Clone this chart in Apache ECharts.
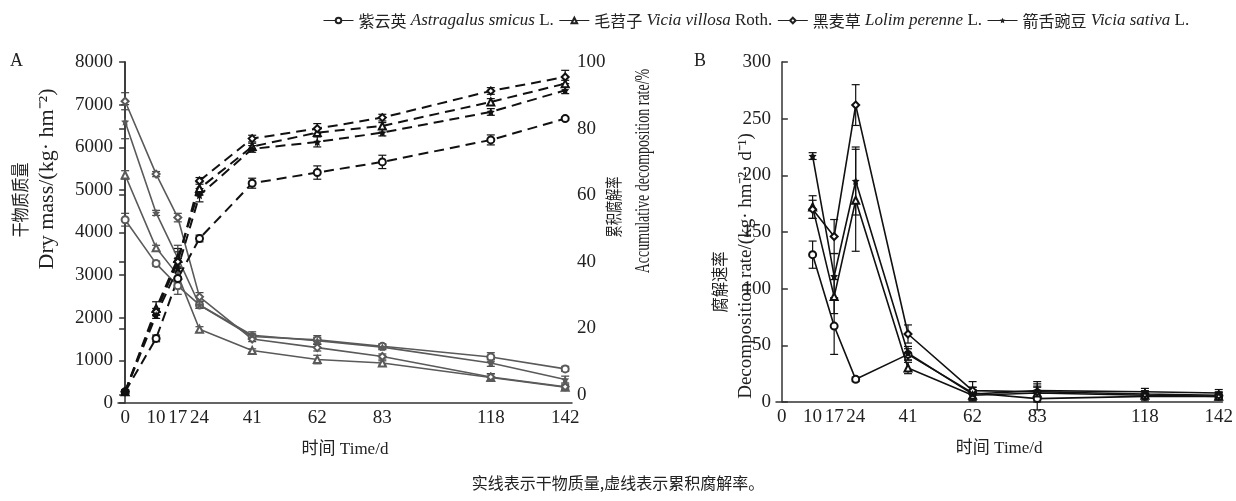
<!DOCTYPE html>
<html>
<head>
<meta charset="utf-8">
<script src="https://cdn.jsdelivr.net/npm/echarts@6/dist/echarts.min.js"></script>
<style>
html, body { margin: 0; padding: 0; background: #fff; }
#main { width: 1236px; height: 501px; }
</style>
</head>
<body>
<div id="main"></div>
<script>
// 时间（天）
var daysA = [0, 10, 17, 24, 41, 62, 83, 118, 142];
var daysB = [10, 17, 24, 41, 62, 83, 118, 142];
var tickDays = [0, 10, 17, 24, 41, 62, 83, 118, 142];

// 物种
var species = ['紫云英', '毛苕子', '黑麦草', '箭舌豌豆'];
var latin = ['Astragalus smicus', 'Vicia villosa', 'Lolim perenne', 'Vicia sativa'];
var author = ['L.', 'Roth.', 'L.', 'L.'];

// A 干物质质量 kg/hm2
var massZyy = [4300, 3270, 2750, 2300, 1560, 1480, 1330, 1080, 800];
var massMtz = [5350, 3640, 3000, 1730, 1230, 1020, 940, 600, 370];
var massHmc = [7080, 5370, 4350, 2490, 1500, 1300, 1090, 610, 380];
var massJsw = [6600, 4460, 3400, 2300, 1590, 1460, 1310, 940, 550];
var massZyyErr = [150, 60, 200, 80, 60, 100, 60, 100, 60];
var massMtzErr = [100, 60, 200, 60, 40, 100, 50, 80, 40];
var massHmcErr = [200, 60, 100, 100, 60, 80, 60, 80, 60];
var massJswErr = [400, 60, 300, 80, 80, 80, 60, 80, 80];

// A 累积腐解率 %
var rateZyy = [1, 17, 35, 47, 63.6, 66.8, 70, 76.6, 83];
var rateMtz = [1, 26, 41, 62, 74.6, 78.8, 80.8, 88, 93.5];
var rateHmc = [1, 25, 40, 64.3, 77, 80, 83.3, 91.3, 95.5];
var rateJsw = [1, 24, 38, 60, 73.9, 76, 78.8, 85, 91.5];
var rateZyyErr = [0.5, 1, 2, 1, 1.5, 2, 2, 1.5, 0.5];
var rateMtzErr = [0.5, 2, 3, 2, 1, 1, 1, 1, 1];
var rateHmcErr = [0.5, 1, 3, 1, 1, 1.5, 1, 1, 2];
var rateJswErr = [0.5, 1, 3, 2, 1, 1.5, 1, 1, 1];

// B 腐解速率 kg/(hm2·d)
var speedZyy = [130, 67, 20, 42, 8, 3, 5, 5];
var speedMtz = [172, 93, 178, 30, 6, 8, 6, 5];
var speedHmc = [170, 146, 262, 60, 10, 9, 7, 6];
var speedJsw = [217, 111, 195, 43, 7, 10, 9, 8];
var speedZyyErr = [12, 25, 2, 5, 5, 10, 4, 3];
var speedMtzErr = [10, 15, 45, 5, 5, 8, 3, 3];
var speedHmcErr = [8, 15, 18, 8, 8, 5, 3, 3];
var speedJswErr = [3, 20, 30, 6, 6, 8, 3, 3];

var starPath = 'path://M0,-10L2.9,-4L9.5,-3.1L4.8,1.5L5.9,8.1L0,5L-5.9,8.1L-4.8,1.5L-9.5,-3.1L-2.9,-4Z';
var symbols = ['emptyCircle', 'emptyTriangle', 'emptyDiamond', starPath];

var serif = 'Liberation Serif';
var cjk = 'Noto Sans CJK SC';

function pairs(xs, ys, es) {
    return xs.map(function (x, i) { return es ? [x, ys[i], es[i]] : [x, ys[i]]; });
}

// 误差线
function errBars(xi, yi, xs, ys, es, color) {
    return {
        type: 'custom',
        xAxisIndex: xi,
        yAxisIndex: yi,
        silent: true,
        z: 1,
        renderItem: function (params, api) {
            var x = api.value(0), y = api.value(1), e = api.value(2);
            var hi = api.coord([x, y + e]);
            var lo = api.coord([x, y - e]);
            var w = 4;
            var st = { stroke: color, lineWidth: 1.2 };
            return {
                type: 'group',
                children: [
                    { type: 'line', shape: { x1: hi[0], y1: hi[1], x2: lo[0], y2: lo[1] }, style: st },
                    { type: 'line', shape: { x1: hi[0] - w, y1: hi[1], x2: hi[0] + w, y2: hi[1] }, style: st },
                    { type: 'line', shape: { x1: lo[0] - w, y1: lo[1], x2: lo[0] + w, y2: lo[1] }, style: st }
                ]
            };
        },
        data: pairs(xs, ys, es)
    };
}

function lineSeries(name, idx, xi, yi, xs, ys, color, dashed) {
    return {
        name: name,
        type: 'line',
        xAxisIndex: xi,
        yAxisIndex: yi,
        symbol: symbols[idx],
        symbolSize: idx === 3 ? 8 : 7,
        showSymbol: true,
        z: 3,
        lineStyle: { color: color, width: dashed ? 2 : 1.6, type: dashed ? [10, 6] : 'solid' },
        itemStyle: { color: color, borderWidth: 1.2 },
        emphasis: { disabled: true },
        data: pairs(xs, ys)
    };
}

var massAll = [massZyy, massMtz, massHmc, massJsw];
var massErrAll = [massZyyErr, massMtzErr, massHmcErr, massJswErr];
var rateAll = [rateZyy, rateMtz, rateHmc, rateJsw];
var rateErrAll = [rateZyyErr, rateMtzErr, rateHmcErr, rateJswErr];
var speedAll = [speedZyy, speedMtz, speedHmc, speedJsw];
var speedErrAll = [speedZyyErr, speedMtzErr, speedHmcErr, speedJswErr];

var series = [];
for (var i = 0; i < 4; i++) {
    series.push(errBars(0, 0, daysA, massAll[i], massErrAll[i], '#444'));
    series.push(errBars(1, 1, daysA, rateAll[i], rateErrAll[i], '#111'));
    series.push(errBars(2, 2, daysB, speedAll[i], speedErrAll[i], '#111'));
}
for (var i = 0; i < 4; i++) {
    series.push(lineSeries(species[i], i, 0, 0, daysA, massAll[i], '#5a5a5a', false));
}
for (var i = 0; i < 4; i++) {
    series.push(lineSeries(species[i], i, 1, 1, daysA, rateAll[i], '#111', true));
    series.push(lineSeries(species[i], i, 2, 2, daysB, speedAll[i], '#111', false));
}

var axisLine = { show: true, lineStyle: { color: '#333', width: 1.5 } };
var labelStyle = {
    color: '#222',
    fontFamily: serif,
    fontSize: 19,
    formatter: function (v) { return String(v); }
};

function xAxisOf(grid, min, max, show) {
    return {
        type: 'value',
        gridIndex: grid,
        min: min,
        max: max,
        show: show,
        axisLine: axisLine,
        axisTick: { show: false },
        splitLine: { show: false },
        axisLabel: Object.assign({ customValues: tickDays, margin: 6 }, labelStyle),
        name: '时间 Time/d',
        nameLocation: 'middle',
        nameGap: 38,
        nameTextStyle: { color: '#222', fontFamily: serif + ', ' + cjk, fontSize: 17 }
    };
}

function yAxisOf(grid, max, interval, pos, inside) {
    return {
        type: 'value',
        gridIndex: grid,
        position: pos,
        min: 0,
        max: max,
        interval: interval,
        axisLine: axisLine,
        axisTick: { show: true, inside: inside, length: 6, lineStyle: { color: '#333', width: 1.5 } },
        splitLine: { show: false },
        axisLabel: Object.assign({ margin: 5 }, labelStyle)
    };
}

function vText(x, y, text, size, squeeze) {
    return {
        type: 'text',
        x: x,
        y: y,
        rotation: Math.PI / 2,
        scaleX: squeeze || 1,
        style: {
            text: text,
            fill: '#222',
            font: size + 'px "' + serif + '", "' + cjk + '"',
            textAlign: 'center',
            textVerticalAlign: 'middle'
        }
    };
}

var myChart = echarts.init(document.getElementById('main'));

var option = {
    animation: false,
    backgroundColor: '#fff',
    legend: {
        data: species,
        left: 318,
        top: 7,
        itemWidth: 30,
        itemHeight: 7,
        itemGap: 5,
        lineStyle: { color: '#222', width: 1, type: 'solid' },
        itemStyle: { color: '#222', borderWidth: 1 },
        formatter: function (name) {
            var k = species.indexOf(name);
            return '{zh|' + name + '} {it|' + latin[k] + '} ' + author[k];
        },
        textStyle: {
            color: '#222',
            fontFamily: serif,
            fontSize: 17,
            rich: {
                zh: { fontFamily: cjk, fontSize: 16, color: '#222' },
                it: { fontFamily: serif, fontStyle: 'italic', fontSize: 17, color: '#222' }
            }
        }
    },
    grid: [
        { left: 118, top: 62, width: 454, height: 341 },
        { left: 118, top: 62, width: 454, height: 333 },
        { left: 776, top: 62, width: 454, height: 340 }
    ],
    xAxis: [
        xAxisOf(0, -2.3, 144.2, true),
        xAxisOf(1, -2.3, 144.2, false),
        xAxisOf(2, -1.9, 143.2, true)
    ],
    yAxis: [
        yAxisOf(0, 8000, 1000, 'left', false),
        yAxisOf(1, 100, 20, 'right', true),
        yAxisOf(2, 300, 50, 'left', true)
    ],
    graphic: [
        { type: 'text', left: 10, top: 52, style: { text: 'A', fill: '#222', font: '18px "' + serif + '"' } },
        { type: 'text', left: 694, top: 52, style: { text: 'B', fill: '#222', font: '18px "' + serif + '"' } },
        vText(22, 200, '干物质质量', 18, 0.83),
        vText(47, 179, 'Dry mass/(kg· hm⁻²)', 22),
        vText(616, 207, '累积腐解率', 17, 0.72),
        vText(644, 171, 'Accumulative decomposition rate/%', 20, 0.7),
        vText(722, 282, '腐解速率', 17, 0.9),
        vText(746, 266, 'Decomposition rate/(kg· hm⁻²· d⁻¹)', 19),
        {
            type: 'text', x: 618, y: 483,
            style: {
                text: '实线表示干物质量,虚线表示累积腐解率。',
                fill: '#222',
                font: '16px "' + cjk + '"',
                textAlign: 'center',
                textVerticalAlign: 'middle'
            }
        }
    ],
    series: series
};

myChart.setOption(option);
</script>
</body>
</html>
